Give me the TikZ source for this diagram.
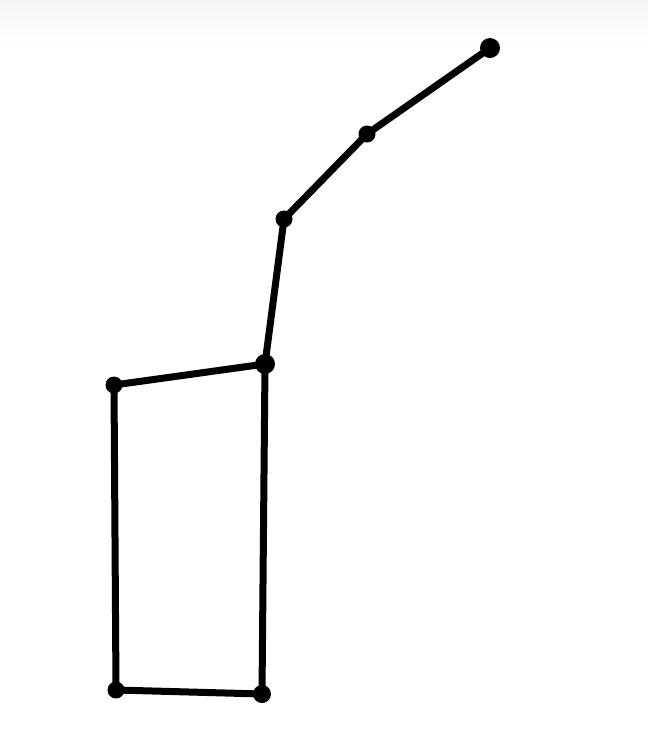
\documentclass[tikz,border=0pt]{standalone}
\begin{document}
\begin{tikzpicture}[x=1pt,y=-1pt,
  star/.style={circle,fill=black,inner sep=0pt,minimum size=#1},
  star/.default=17pt,
  edge/.style={line width=7pt,line join=round,line cap=round}]
\useasboundingbox (0,0) rectangle (648,748);
\fill[white] (0,0) rectangle (648,748);
\shade[top color=black!4,bottom color=white] (0,0) rectangle (648,45);
\node[star=20pt] (a) at (490,48) {};
\node[star] (b) at (367,134) {};
\node[star] (c) at (284,219) {};
\node[star=20pt] (d) at (265,364) {};
\node[star] (e) at (114,385) {};
\node[star] (f) at (116,690) {};
\node[star=18pt] (g) at (262,694) {};
\draw[edge] (a.center) -- (b.center) -- (c.center) -- (d.center) -- (e.center) -- (f.center) -- (g.center) -- (d.center);
\end{tikzpicture}
\end{document}
